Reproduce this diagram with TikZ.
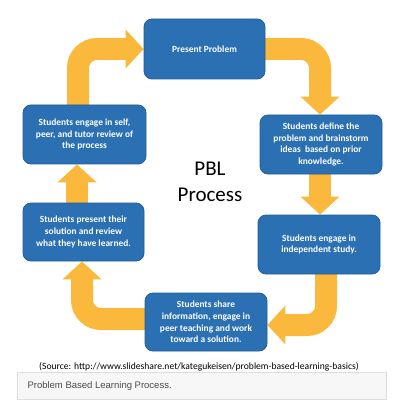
\documentclass[tikz,border=0pt]{standalone}
\usepackage{fontspec}
\setmainfont{Carlito}
\newfontfamily\arialfont{Liberation Sans}
\usetikzlibrary{arrows.meta,backgrounds}
\definecolor{boxblue}{HTML}{2B70B2}
\definecolor{boxedge}{HTML}{235E98}
\definecolor{arrowyellow}{HTML}{FAB83C}
\definecolor{barfill}{HTML}{F7F7F7}
\definecolor{baredge}{HTML}{DDDDDD}
\definecolor{bartext}{HTML}{4A4A4A}
\begin{document}
\begin{tikzpicture}[x=1pt,y=-1pt,
  stepbox/.style={draw=boxedge,fill=boxblue,line width=0.8pt,rounded corners=8pt,
    text=white,font=\bfseries\fontsize{9.4}{11.8}\selectfont,align=center,
    inner sep=2pt},
  bigarrow/.style={draw=arrowyellow,line width=22pt,rounded corners=19pt,
    -{Triangle[length=18pt 0 0,width=38pt 0 0]}},
  ]
\useasboundingbox (0,0) rectangle (400,403);
\node[stepbox,minimum width=121pt,minimum height=60pt] (P1) at (204.5,49) {Present Problem};
\node[stepbox,minimum width=122pt,minimum height=59pt] (P2) at (321,144.5) {Students define the\\problem and brainstorm\\ideas\ \ based on prior\\knowledge.};
\node[stepbox,minimum width=122pt,minimum height=59pt] (P3) at (319,244.5) {Students engage in\\independent study.};
\node[stepbox,minimum width=122pt,minimum height=58pt] (P4) at (206,322) {Students share\\information, engage in\\peer teaching and work\\toward a solution.};
\node[stepbox,minimum width=121pt,minimum height=58pt] (P5) at (83.5,232) {Students present their\\solution and review\\what they have learned.};
\node[stepbox,minimum width=123pt,minimum height=59pt] (P6) at (84.5,134.5) {Students engage in self,\\peer, and tutor review of\\the process};
\node[font=\fontsize{21}{26}\selectfont,align=center] (T) at (210,182) {PBL\\Process};
\begin{pgfonlayer}{background}
\draw[bigarrow] ([xshift=-6.5pt]P6.center) |- (P1.west);
\draw[bigarrow] (P1.center) -| ([xshift=-1pt]P2.north);
\draw[bigarrow] ([xshift=-1pt]P2.center) -- ([xshift=1pt]P3.north);
\draw[bigarrow] ([xshift=7pt]P3.center) |- ([yshift=-3pt]P4.east);
\draw[bigarrow] ([yshift=3pt]P4.center) -| ([xshift=-1.5pt]P5.north |- P5.south);
\draw[bigarrow] ([xshift=-6.5pt]P5.center) -- ([xshift=-7.5pt]P6.south);
\end{pgfonlayer}
\node[font=\fontsize{9.6}{11}\selectfont] (S) at (199,367) {(Source: http://www.slideshare.net/kategukeisen/problem-based-learning-basics)};
\node[draw=baredge,fill=barfill,line width=0.6pt,minimum width=369pt,minimum height=27pt] (B) at (201.5,385.5) {};
\node[anchor=west,font=\arialfont\fontsize{9.5}{11}\selectfont,text=bartext] (BT) at (24,386) {Problem Based Learning Process.};
\end{tikzpicture}
\end{document}
